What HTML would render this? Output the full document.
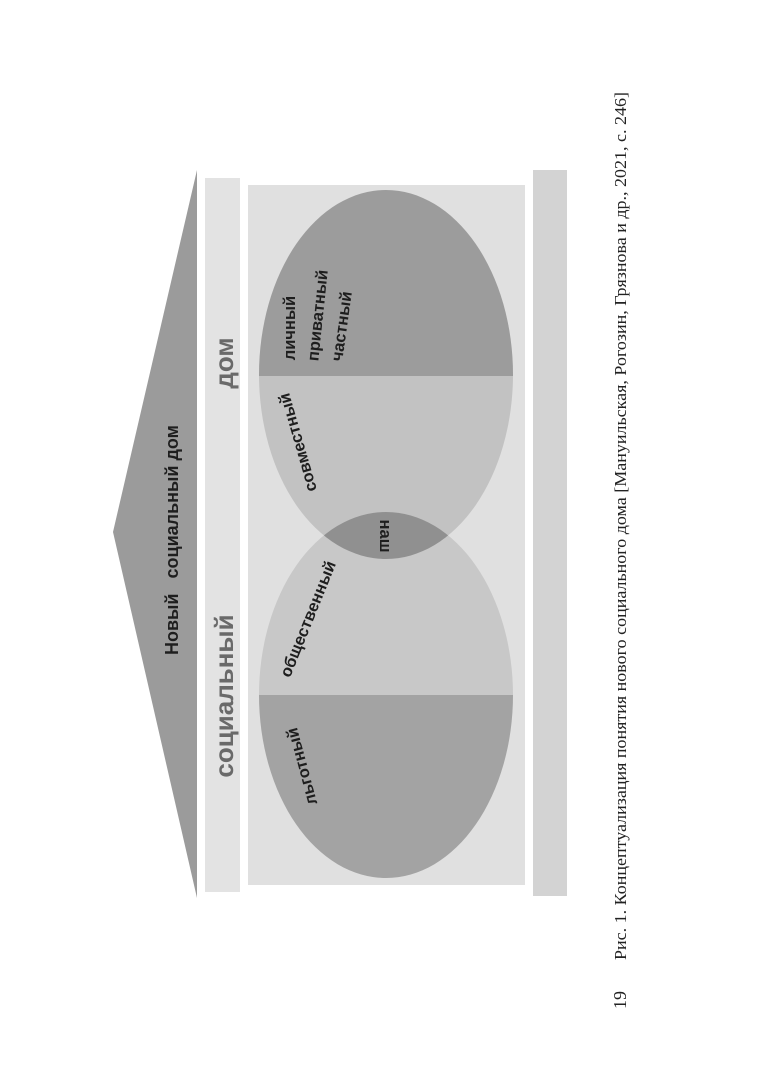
<!DOCTYPE html>
<html><head><meta charset="utf-8"><style>
html,body{margin:0;padding:0;background:#fff;}
svg{display:block;}
.s{font-family:"Liberation Sans","DejaVu Sans",sans-serif;font-weight:bold;}
</style></head><body>
<svg width="761" height="1080" viewBox="0 0 761 1080" xmlns="http://www.w3.org/2000/svg">
<defs>
<clipPath id="ct"><ellipse cx="386" cy="374.5" rx="127" ry="184.5"/></clipPath>
<clipPath id="cb"><ellipse cx="386" cy="695" rx="127" ry="183"/></clipPath>
</defs>
<polygon points="113,532 197,170 197,898" fill="#9b9b9b"/>
<rect x="205" y="178" width="35" height="714" fill="#e3e3e3"/>
<rect x="248" y="185" width="277" height="700" fill="#e0e0e0"/>
<rect x="533" y="170" width="34" height="726" fill="#d3d3d3"/>
<g clip-path="url(#ct)">
<rect x="250" y="180" width="280" height="196" fill="#9c9c9c"/>
<rect x="250" y="376" width="280" height="190" fill="#c2c2c2"/>
</g>
<g clip-path="url(#cb)">
<rect x="250" y="505" width="280" height="190" fill="#c8c8c8"/>
<rect x="250" y="695" width="280" height="190" fill="#a3a3a3"/>
</g>
<g clip-path="url(#ct)"><ellipse cx="386" cy="695" rx="127" ry="183" fill="#909090"/></g>

<g class="s" fill="#1e1e1e">
<text transform="translate(178,540) rotate(-90)" text-anchor="middle" font-size="18" textLength="230" lengthAdjust="spacing">Новый&#160;&#160;&#160;социальный дом</text>
<text transform="translate(233,696) rotate(-90)" text-anchor="middle" font-size="26" fill="#6a6a6a">социальный</text>
<text transform="translate(233,363) rotate(-90)" text-anchor="middle" font-size="26" fill="#6a6a6a">дом</text>
<text transform="translate(307,765) rotate(-105)" text-anchor="middle" font-size="16.5">льготный</text>
<text transform="translate(313,621) rotate(-68)" text-anchor="middle" font-size="16.5">общественный</text>
<text transform="translate(303,441) rotate(-106)" text-anchor="middle" font-size="16.5">совместный</text>
<text transform="translate(295,328) rotate(-90)" text-anchor="middle" font-size="16.5">личный</text>
<text transform="translate(323,316) rotate(-84)" text-anchor="middle" font-size="16.5">приватный</text>
<text transform="translate(347,327) rotate(-82)" text-anchor="middle" font-size="16.5">частный</text>
<text transform="translate(380,536) rotate(90)" text-anchor="middle" font-size="16.5">наш</text>
</g>
<text transform="translate(626,526) rotate(-90)" text-anchor="middle" font-family="Liberation Serif,serif" font-size="17" fill="#222" textLength="868" lengthAdjust="spacingAndGlyphs">Рис. 1. Концептуализация понятия нового социального дома [Мануильская, Рогозин, Грязнова и др., 2021, с. 246]</text>
<text transform="translate(626,1000) rotate(-90)" text-anchor="middle" font-family="Liberation Serif,serif" font-size="18" fill="#222">19</text>
</svg>
</body></html>
